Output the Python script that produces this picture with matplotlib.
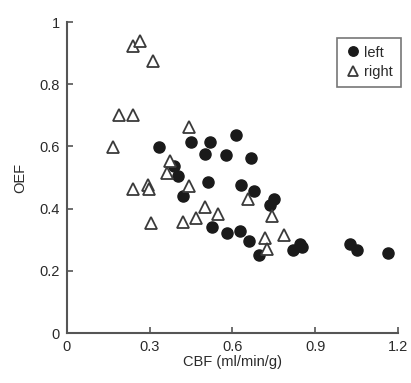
import matplotlib
matplotlib.use('Agg')
import matplotlib.pyplot as plt

plt.rcParams['font.family'] = ['Liberation Sans', 'DejaVu Sans']

# left hemisphere (filled circles)
left_cbf = [0.332, 0.449, 0.519, 0.614, 0.501, 0.575, 0.667, 0.389, 0.401,
            0.511, 0.632, 0.680, 0.420, 0.752, 0.737, 0.525, 0.582, 0.627,
            0.659, 0.697, 0.820, 0.846, 0.853, 1.028, 1.052, 1.163]
left_oef = [0.599, 0.615, 0.615, 0.636, 0.577, 0.573, 0.562, 0.538, 0.504,
            0.487, 0.475, 0.458, 0.441, 0.430, 0.412, 0.342, 0.322, 0.329,
            0.295, 0.251, 0.267, 0.286, 0.277, 0.285, 0.267, 0.256]

# right hemisphere (open triangles)
right_cbf = [0.239, 0.265, 0.313, 0.190, 0.241, 0.166, 0.444, 0.374, 0.364,
             0.239, 0.292, 0.297, 0.442, 0.655, 0.499, 0.547, 0.420, 0.469,
             0.305, 0.744, 0.717, 0.725, 0.786]
right_oef = [0.923, 0.938, 0.876, 0.700, 0.700, 0.597, 0.663, 0.554, 0.515,
             0.463, 0.476, 0.462, 0.474, 0.430, 0.406, 0.382, 0.358, 0.369,
             0.355, 0.376, 0.306, 0.269, 0.315]

xticks = [0, 0.3, 0.6, 0.9, 1.2]
xticklabels = ['0', '0.3', '0.6', '0.9', '1.2']
yticks = [0, 0.2, 0.4, 0.6, 0.8, 1]
yticklabels = ['0', '0.2', '0.4', '0.6', '0.8', '1']

ink = '#2a2a2a'

fig = plt.figure(figsize=(4.11, 3.83), dpi=100)
ax = fig.add_axes([0.163, 0.1305, 0.805, 0.812])

ax.plot(left_cbf, left_oef, 'o', ms=8, color='#1a1a1a', mec='#1a1a1a',
        label='left', clip_on=False)
ax.plot(right_cbf, right_oef, '^', ms=8.3, mfc='white', mec='#3a3a3a',
        mew=1.3, label='right', clip_on=False)

ax.set_xlim(0, 1.2)
ax.set_ylim(0, 1)
ax.set_xticks(xticks)
ax.set_xticklabels(xticklabels)
ax.set_yticks(yticks)
ax.set_yticklabels(yticklabels)

for s in ['top', 'right']:
    ax.spines[s].set_visible(False)
for s in ['left', 'bottom']:
    ax.spines[s].set_color('#555555')
    ax.spines[s].set_linewidth(1.5)

ax.tick_params(direction='in', length=4, width=1.2, colors='#555555',
               labelcolor=ink, labelsize=10.5, pad=5)

ax.set_xlabel('CBF (ml/min/g)', fontsize=10.5, color=ink, labelpad=1)
ax.set_ylabel('OEF', fontsize=10.5, color=ink, labelpad=9)

leg = ax.legend(loc='upper right', bbox_to_anchor=(1.01, 0.95), frameon=True,
                fancybox=False, fontsize=10.5, handletextpad=0.3,
                borderpad=0.55, labelspacing=0.35, handlelength=1.0,
                borderaxespad=0, markerscale=0.85)
leg.get_frame().set_edgecolor('#555555')
leg.get_frame().set_linewidth(1.2)
for t in leg.get_texts():
    t.set_color(ink)

plt.savefig('out.png', dpi=100)
